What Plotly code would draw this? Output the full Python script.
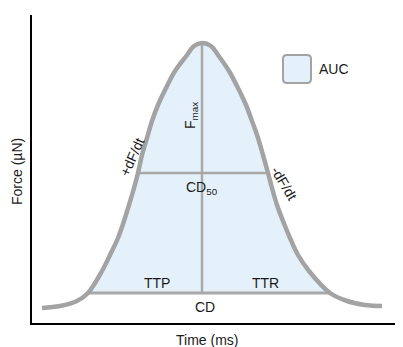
import numpy as np
import plotly.graph_objects as go

# Force-time trace (time in arbitrary ms units, force in arbitrary µN units)
time_ms = [10, 28, 45, 56, 70, 78, 86, 92, 97, 102, 106, 110, 115, 120, 126, 134, 143, 155, 162, 170,
           179, 186, 197, 206, 214, 220, 226, 231, 236, 240, 245, 251, 258, 266, 277, 298, 315, 333, 350]
force_uN = [15, 17, 22, 30, 52, 68, 85, 102, 118, 135, 150, 168, 185, 202, 218, 235, 252, 268, 277, 280,
            277, 268, 252, 235, 218, 202, 185, 168, 150, 135, 118, 102, 85, 68, 52, 30, 22, 18, 17]

cd_level = 30          # contraction-duration baseline
peak_time = 170        # time of Fmax
f_max = 280
cd50_level = 150       # half-amplitude level

X_RANGE = [0, 371]
Y_RANGE = [0, 308]

t = np.array(time_ms, float)
f = np.array(force_uN, float)
ip = int(np.argmax(f))
t_up, f_up = t[:ip + 1], f[:ip + 1]
t_dn, f_dn = t[ip:][::-1], f[ip:][::-1]

def cross(level):
    return float(np.interp(level, f_up, t_up)), float(np.interp(level, f_dn, t_dn))

cd_l, cd_r = cross(cd_level)
h_l, h_r = cross(cd50_level)

mask = f > cd_level
fill_t = [cd_l] + list(t[mask]) + [cd_r]
fill_f = [cd_level] + list(f[mask]) + [cd_level]

CURVE = "#a3a3a3"
INNER = "#a8a8a8"
FILL = "#e5f1fa"
FONT = "Liberation Sans, Arial, sans-serif"
SMOOTH = 1.0

fig = go.Figure()
fig.add_trace(go.Scatter(x=fill_t, y=fill_f, mode="lines", fill="toself",
                         fillcolor=FILL, line=dict(width=0, shape="spline", smoothing=SMOOTH),
                         hoverinfo="skip", showlegend=False))
# inner measurement lines
fig.add_trace(go.Scatter(x=[cd_l, cd_r], y=[cd_level, cd_level], mode="lines",
                         line=dict(color=INNER, width=3), showlegend=False))
fig.add_trace(go.Scatter(x=[h_l, h_r], y=[cd50_level, cd50_level], mode="lines",
                         line=dict(color=INNER, width=2.5), showlegend=False))
fig.add_trace(go.Scatter(x=[peak_time, peak_time], y=[cd_level, f_max], mode="lines",
                         line=dict(color=INNER, width=2.5), showlegend=False))
# force curve
fig.add_trace(go.Scatter(x=time_ms, y=force_uN, mode="lines",
                         line=dict(color=CURVE, width=4.5, shape="spline", smoothing=SMOOTH),
                         showlegend=False))

# AUC swatch (rounded square)
x0, x1, y0, y1, r = 251, 279, 240, 268, 4
path = (f"M{x0+r},{y0} L{x1-r},{y0} Q{x1},{y0} {x1},{y0+r} L{x1},{y1-r} Q{x1},{y1} {x1-r},{y1} "
        f"L{x0+r},{y1} Q{x0},{y1} {x0},{y1-r} L{x0},{y0+r} Q{x0},{y0} {x0+r},{y0} Z")
fig.add_shape(type="path", path=path, xref="x", yref="y",
              fillcolor=FILL, line=dict(color=CURVE, width=2))

def ann(text, x, y, angle=0, xanchor="center", size=14, paper=False):
    if paper:
        x = (x - X_RANGE[0]) / (X_RANGE[1] - X_RANGE[0])
        y = (y - Y_RANGE[0]) / (Y_RANGE[1] - Y_RANGE[0])
    fig.add_annotation(text=text, x=x, y=y,
                       xref="paper" if paper else "x", yref="paper" if paper else "y",
                       showarrow=False, textangle=angle, xanchor=xanchor, yanchor="middle",
                       font=dict(family=FONT, size=size, color="#1a1a1a"))

ann("AUC", 285, 254, xanchor="left")
ann("F<sub>max</sub>", 159, 207, angle=-90)
ann("CD<sub>50</sub>", 170, 135)
ann("+dF/dt", 100, 166, angle=-66)
ann("-dF/dt", 252, 140, angle=59)
ann("TTP", 125, 40)
ann("TTR", 233, 40)
ann("CD", 173, 16)
ann("Time (ms)", 175, -17, paper=True)
ann("Force (µN)", -15, 151, angle=-90, paper=True)

# the page body adds an 8px margin, so the figure is sized to fit the 403x347 window
fig.update_layout(
    width=395, height=339,
    margin=dict(l=24, r=0, t=7, b=24),
    paper_bgcolor="white", plot_bgcolor="white",
    xaxis=dict(range=X_RANGE, showgrid=False, zeroline=False, showticklabels=False,
               ticks="", showline=True, linecolor="black", linewidth=2.2, fixedrange=True),
    yaxis=dict(range=Y_RANGE, showgrid=False, zeroline=False, showticklabels=False,
               ticks="", showline=True, linecolor="black", linewidth=2.2, fixedrange=True),
)

fig.write_html("out.html")
